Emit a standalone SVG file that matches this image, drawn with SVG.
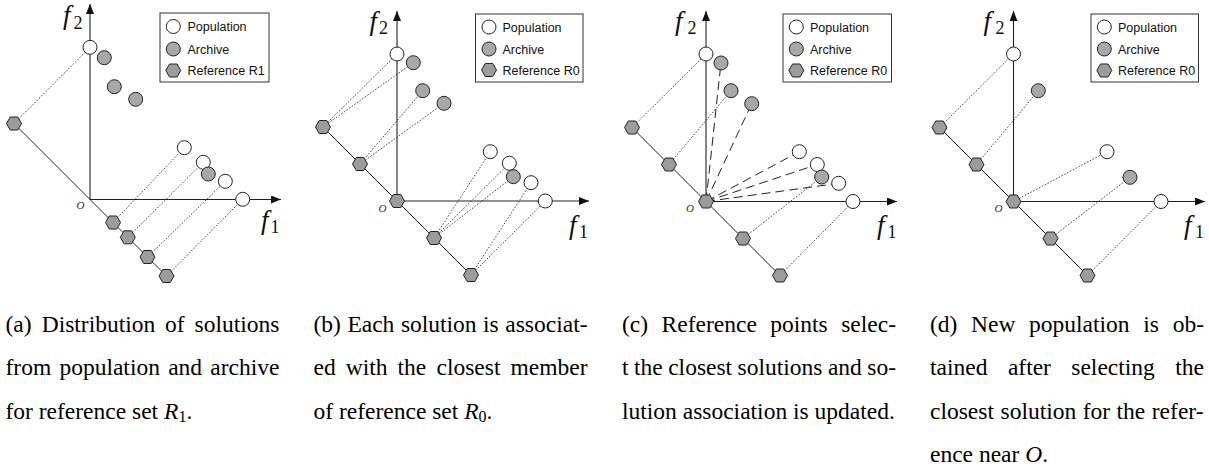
<svg xmlns="http://www.w3.org/2000/svg" xmlns:xlink="http://www.w3.org/1999/xlink" width="1209" height="470" viewBox="0 0 1209 470">
<style>
.ax{stroke:#222;stroke-width:1.1;fill:none}
.rl{stroke:#222;stroke-width:1;fill:none}
.dot{stroke:#333;stroke-width:0.9;stroke-dasharray:1.6 1.6;fill:none}
.dash{stroke:#222;stroke-width:1;stroke-dasharray:9 5;fill:none}
.pop{fill:#fff;stroke:#222;stroke-width:1}
.arc{fill:#a8a8a8;stroke:#222;stroke-width:1}
.hex{fill:#9c9c9c;stroke:#222;stroke-width:1}
.leg{fill:#fff;stroke:#333;stroke-width:1}
.lt{font-family:"Liberation Sans",Arial,sans-serif;font-size:12.5px;fill:#111}
.math{font-family:"Liberation Serif","Times New Roman",serif;font-style:italic;font-size:27px;fill:#111}
.sub{font-style:normal;font-size:18px}
.o{font-family:"Liberation Serif","Times New Roman",serif;font-style:italic;font-size:11px;fill:#333}
.cap{font-family:"Liberation Serif","Times New Roman",serif;font-size:23.5px;fill:#000}
</style>
<defs>
<marker id="arr" viewBox="0 0 10 8" refX="10" refY="4" markerWidth="10" markerHeight="8" markerUnits="userSpaceOnUse" orient="auto">
<path d="M0,0 L10,4 L0,8 z" fill="#111"/>
</marker>
<polygon id="hx" class="hex" points="-7.5,0 -3.75,-6.5 3.75,-6.5 7.5,0 3.75,6.5 -3.75,6.5"/>
</defs>

<!-- Panel (a) -->
<g id="panel-a">
<g id="a-connectors">
<line class="dot" x1="14" y1="123.5" x2="90" y2="47.3"/>
<line class="dot" x1="113" y1="222.5" x2="184.3" y2="147.7"/>
<line class="dot" x1="127.8" y1="237.3" x2="203.3" y2="162.3"/>
<line class="dot" x1="147.5" y1="257" x2="225.3" y2="181.3"/>
<line class="dot" x1="166.5" y1="276" x2="242.7" y2="199.3"/>
<line class="rl" x1="14" y1="123.5" x2="166.5" y2="276"/>
<line class="ax" x1="90" y1="199.5" x2="90" y2="4" marker-end="url(#arr)"/>
<line class="ax" x1="90" y1="199.5" x2="281" y2="199.5" marker-end="url(#arr)"/>
</g>
<g id="a-nodes">
<circle class="pop" cx="90" cy="47.3" r="7"/>
<circle class="pop" cx="184.3" cy="147.7" r="7"/>
<circle class="pop" cx="203.3" cy="162.3" r="7"/>
<circle class="pop" cx="225.3" cy="181.3" r="7"/>
<circle class="pop" cx="242.7" cy="199.3" r="7"/>
<circle class="arc" cx="104.3" cy="57.7" r="7"/>
<circle class="arc" cx="114.3" cy="86.7" r="7"/>
<circle class="arc" cx="135.7" cy="99.3" r="7"/>
<circle class="arc" cx="208.3" cy="174" r="7"/>
<use xlink:href="#hx" x="14" y="123.5"/>
<use xlink:href="#hx" x="113" y="222.5"/>
<use xlink:href="#hx" x="127.8" y="237.3"/>
<use xlink:href="#hx" x="147.5" y="257"/>
<use xlink:href="#hx" x="166.5" y="276"/>
</g>
<text class="math" x="63" y="23.5">f<tspan class="sub" x="73.5" y="28.5">2</tspan></text>
<text class="math" x="261" y="229">f<tspan class="sub" x="270.5" y="232.5">1</tspan></text>
<text class="o" x="76.5" y="208.5">O</text>
<g id="a-legend">
<rect class="leg" x="160" y="13" width="109" height="69"/>
<circle class="pop" cx="173.3" cy="26.5" r="7"/>
<circle class="arc" cx="173.3" cy="49" r="7"/>
<use xlink:href="#hx" x="173.3" y="70.5"/>
<text class="lt" x="187.5" y="31">Population</text>
<text class="lt" x="187.5" y="53.5">Archive</text>
<text class="lt" x="187.5" y="75">Reference R1</text>
</g>
</g>

<!-- Panel (b) -->
<g id="panel-b">
<g id="b-connectors">
<line class="dot" x1="323" y1="127" x2="397" y2="54"/>
<line class="dot" x1="323" y1="127" x2="413.3" y2="62.7"/>
<line class="dot" x1="360" y1="164" x2="422.7" y2="90.7"/>
<line class="dot" x1="360" y1="164" x2="444" y2="103.3"/>
<line class="dot" x1="434" y1="238" x2="490.3" y2="151.7"/>
<line class="dot" x1="434" y1="238" x2="509.3" y2="163.3"/>
<line class="dot" x1="434" y1="238" x2="513.3" y2="176.7"/>
<line class="dot" x1="471" y1="275" x2="531" y2="182.7"/>
<line class="dot" x1="471" y1="275" x2="545.3" y2="201"/>
<line class="rl" x1="323" y1="127" x2="471" y2="275"/>
<line class="ax" x1="397" y1="201" x2="397" y2="11" marker-end="url(#arr)"/>
<line class="ax" x1="397" y1="201" x2="589" y2="201" marker-end="url(#arr)"/>
</g>
<g id="b-nodes">
<circle class="pop" cx="397" cy="54" r="7"/>
<circle class="pop" cx="490.3" cy="151.7" r="7"/>
<circle class="pop" cx="509.3" cy="163.3" r="7"/>
<circle class="pop" cx="531" cy="182.7" r="7"/>
<circle class="pop" cx="545.3" cy="201" r="7"/>
<circle class="arc" cx="413.3" cy="62.7" r="7"/>
<circle class="arc" cx="422.7" cy="90.7" r="7"/>
<circle class="arc" cx="444" cy="103.3" r="7"/>
<circle class="arc" cx="513.3" cy="176.7" r="7"/>
<use xlink:href="#hx" x="323" y="127"/>
<use xlink:href="#hx" x="360" y="164"/>
<use xlink:href="#hx" x="397" y="201"/>
<use xlink:href="#hx" x="434" y="238"/>
<use xlink:href="#hx" x="471" y="275"/>
</g>
<text class="math" x="369.5" y="29.5">f<tspan class="sub" x="379" y="33.5">2</tspan></text>
<text class="math" x="569" y="234">f<tspan class="sub" x="579" y="237.5">1</tspan></text>
<text class="o" x="378.5" y="211.5">O</text>
<g id="b-legend">
<rect class="leg" x="475.5" y="14" width="107.5" height="68"/>
<circle class="pop" cx="489" cy="27" r="7"/>
<circle class="arc" cx="489" cy="49" r="7"/>
<use xlink:href="#hx" x="489" y="70"/>
<text class="lt" x="502.5" y="31.5">Population</text>
<text class="lt" x="502.5" y="53.5">Archive</text>
<text class="lt" x="502.5" y="74.5">Reference R0</text>
</g>
</g>

<!-- Panel (c) -->
<g id="panel-c">
<g id="c-connectors">
<line class="dot" x1="632" y1="127.5" x2="706" y2="54"/>
<line class="dot" x1="669" y1="164.5" x2="731" y2="90.7"/>
<line class="dot" x1="743" y1="238.5" x2="821.7" y2="177"/>
<line class="dot" x1="780" y1="275.5" x2="853" y2="201.5"/>
<line class="dash" x1="706" y1="201.5" x2="721" y2="63"/>
<line class="dash" x1="706" y1="201.5" x2="751.7" y2="103.7"/>
<line class="dash" x1="706" y1="201.5" x2="799.3" y2="151.7"/>
<line class="dash" x1="706" y1="201.5" x2="817.3" y2="164.5"/>
<line class="dash" x1="706" y1="201.5" x2="838.7" y2="183.3"/>
<line class="rl" x1="632" y1="127.5" x2="780" y2="275.5"/>
<line class="ax" x1="706" y1="201.5" x2="706" y2="11" marker-end="url(#arr)"/>
<line class="ax" x1="706" y1="201.5" x2="897" y2="201.5" marker-end="url(#arr)"/>
</g>
<g id="c-nodes">
<circle class="pop" cx="706" cy="54" r="7"/>
<circle class="pop" cx="799.3" cy="151.7" r="7"/>
<circle class="pop" cx="817.3" cy="164.5" r="7"/>
<circle class="pop" cx="838.7" cy="183.3" r="7"/>
<circle class="pop" cx="853" cy="201.5" r="7"/>
<circle class="arc" cx="721" cy="63" r="7"/>
<circle class="arc" cx="731" cy="90.7" r="7"/>
<circle class="arc" cx="751.7" cy="103.7" r="7"/>
<circle class="arc" cx="821.7" cy="177" r="7"/>
<use xlink:href="#hx" x="632" y="127.5"/>
<use xlink:href="#hx" x="669" y="164.5"/>
<use xlink:href="#hx" x="706" y="201.5"/>
<use xlink:href="#hx" x="743" y="238.5"/>
<use xlink:href="#hx" x="780" y="275.5"/>
</g>
<text class="math" x="675" y="29.5">f<tspan class="sub" x="687.5" y="33.5">2</tspan></text>
<text class="math" x="877" y="234">f<tspan class="sub" x="887.5" y="237.5">1</tspan></text>
<text class="o" x="686" y="211.5">O</text>
<g id="c-legend">
<rect class="leg" x="783" y="14" width="108.5" height="68"/>
<circle class="pop" cx="796.3" cy="27" r="7"/>
<circle class="arc" cx="796.3" cy="49" r="7"/>
<use xlink:href="#hx" x="796.3" y="70.5"/>
<text class="lt" x="810" y="31.5">Population</text>
<text class="lt" x="810" y="53.5">Archive</text>
<text class="lt" x="810" y="75">Reference R0</text>
</g>
</g>

<!-- Panel (d) -->
<g id="panel-d">
<g id="d-connectors">
<line class="dot" x1="939.5" y1="127.5" x2="1013.5" y2="54"/>
<line class="dot" x1="976.5" y1="164.5" x2="1038.3" y2="90.7"/>
<line class="dot" x1="1013.5" y1="201.5" x2="1107" y2="151.7"/>
<line class="dot" x1="1050.5" y1="238.5" x2="1130" y2="177.3"/>
<line class="dot" x1="1087.5" y1="275.5" x2="1161" y2="201.5"/>
<line class="rl" x1="939.5" y1="127.5" x2="1087.5" y2="275.5"/>
<line class="ax" x1="1013.5" y1="201.5" x2="1013.5" y2="11" marker-end="url(#arr)"/>
<line class="ax" x1="1013.5" y1="201.5" x2="1205" y2="201.5" marker-end="url(#arr)"/>
</g>
<g id="d-nodes">
<circle class="pop" cx="1013.5" cy="54" r="7"/>
<circle class="pop" cx="1107" cy="151.7" r="7"/>
<circle class="pop" cx="1161" cy="201.5" r="7"/>
<circle class="arc" cx="1038.3" cy="90.7" r="7"/>
<circle class="arc" cx="1130" cy="177.3" r="7"/>
<use xlink:href="#hx" x="939.5" y="127.5"/>
<use xlink:href="#hx" x="976.5" y="164.5"/>
<use xlink:href="#hx" x="1013.5" y="201.5"/>
<use xlink:href="#hx" x="1050.5" y="238.5"/>
<use xlink:href="#hx" x="1087.5" y="275.5"/>
</g>
<text class="math" x="983.5" y="29.5">f<tspan class="sub" x="995.5" y="33.5">2</tspan></text>
<text class="math" x="1184" y="234">f<tspan class="sub" x="1195" y="237.5">1</tspan></text>
<text class="o" x="994.5" y="211.5">O</text>
<g id="d-legend">
<rect class="leg" x="1091" y="14" width="107.5" height="68"/>
<circle class="pop" cx="1104.3" cy="27" r="7"/>
<circle class="arc" cx="1104.3" cy="49" r="7"/>
<use xlink:href="#hx" x="1104.3" y="70.5"/>
<text class="lt" x="1118" y="31.5">Population</text>
<text class="lt" x="1118" y="53.5">Archive</text>
<text class="lt" x="1118" y="75">Reference R0</text>
</g>
</g>

<!-- Captions -->
<g id="captions" class="cap">
<text y="332"><tspan x="5.5">(a)</tspan><tspan x="41.7">Distribution</tspan><tspan x="164.9">of</tspan><tspan x="194.6">solutions</tspan></text>
<text y="375.3"><tspan x="5.5">from</tspan><tspan x="59.4">population</tspan><tspan x="168.2">and</tspan><tspan x="210.3">archive</tspan></text>
<text y="418.6" x="5.5">for reference set <tspan font-style="italic">R</tspan><tspan font-size="16" dy="3.5">1</tspan><tspan dy="-3.5">.</tspan></text>

<text y="332"><tspan x="313.5">(b)</tspan><tspan x="347.4">Each</tspan><tspan x="400.9">solution</tspan><tspan x="483.1">is</tspan><tspan x="505.3">associat-</tspan></text>
<text y="375.3"><tspan x="313.5">ed</tspan><tspan x="345.8">with</tspan><tspan x="397.6">the</tspan><tspan x="436.5">closest</tspan><tspan x="510.5">member</tspan></text>
<text y="418.6" x="313.5">of reference set <tspan font-style="italic">R</tspan><tspan font-size="16" dy="3.5">0</tspan><tspan dy="-3.5">.</tspan></text>

<text y="332"><tspan x="622">(c)</tspan><tspan x="661.6">Reference</tspan><tspan x="770.3">points</tspan><tspan x="841.2">selec-</tspan></text>
<text y="375.3"><tspan x="622">t</tspan><tspan x="634">the</tspan><tspan x="668.2">closest</tspan><tspan x="737.6">solutions</tspan><tspan x="827.9">and</tspan><tspan x="867.3">so-</tspan></text>
<text y="418.6" x="622">lution association is updated.</text>

<text y="332"><tspan x="930">(d)</tspan><tspan x="971.1">New</tspan><tspan x="1029.1">population</tspan><tspan x="1143.3">is</tspan><tspan x="1172.7">ob-</tspan></text>
<text y="375.3"><tspan x="930">tained</tspan><tspan x="1007.9">after</tspan><tspan x="1071.3">selecting</tspan><tspan x="1175.3">the</tspan></text>
<text y="418.6"><tspan x="930">closest</tspan><tspan x="1000.5">solution</tspan><tspan x="1082.7">for</tspan><tspan x="1116.6">the</tspan><tspan x="1151.8">refer-</tspan></text>
<text y="461.9" x="930">ence near <tspan font-style="italic">O</tspan>.</text>
</g>
</svg>
